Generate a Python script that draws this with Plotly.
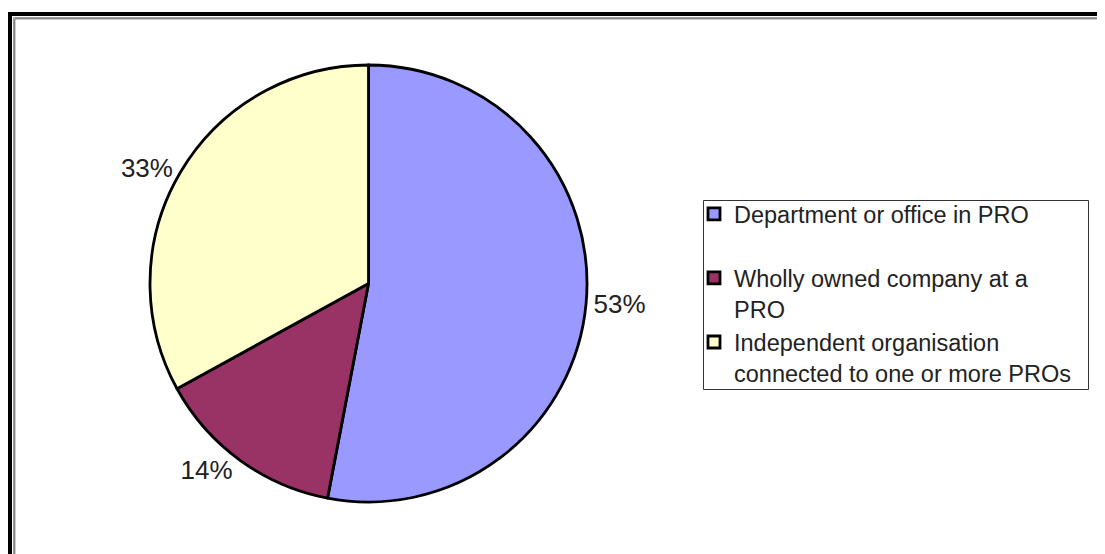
import plotly.graph_objects as go

categories = [
    "Department or office in PRO<br> ",
    "Wholly owned company at a<br>PRO",
    "Independent organisation<br>connected to one or more PROs",
]
values = [53, 14, 33]
colors = ["#9999FF", "#993366", "#FFFFCC"]

W, H = 1105, 554
OFF = 8  # page body margin of the browser


def px(x):
    return (x - OFF) / W


def py(y):
    return 1 - (y - OFF) / H


FONT = "Liberation Sans, Arial, sans-serif"

fig = go.Figure(
    go.Pie(
        labels=categories,
        values=values,
        sort=False,
        direction="clockwise",
        rotation=0,
        marker=dict(colors=colors, line=dict(color="#000000", width=2.8)),
        textinfo="percent",
        textposition="outside",
        outsidetextfont=dict(family=FONT, size=26, color="#222222"),
        domain=dict(x=[px(150), px(587)], y=[py(502), py(65)]),
        hoverinfo="label+percent",
    )
)

shapes = [
    dict(type="rect", xref="paper", yref="paper", x0=px(10), y0=py(14), x1=px(1140), y1=py(590),
         line=dict(color="#000000", width=4), fillcolor="rgba(0,0,0,0)"),
    dict(type="rect", xref="paper", yref="paper", x0=px(13.5), y0=py(17.5), x1=px(1140), y1=py(590),
         line=dict(color="#9a9a9a", width=1), fillcolor="rgba(0,0,0,0)"),
    dict(type="rect", xref="paper", yref="paper", x0=px(14.8), y0=py(18.8), x1=px(1140), y1=py(590),
         line=dict(color="#555555", width=1), fillcolor="rgba(0,0,0,0)"),
    # legend box
    dict(type="rect", xref="paper", yref="paper", x0=px(703.5), y0=py(200.5), x1=px(1088.5), y1=py(389.5),
         line=dict(color="#333333", width=1), fillcolor="rgba(0,0,0,0)", layer="above"),
]

fig.update_layout(
    width=W,
    height=H,
    margin=dict(l=0, r=0, t=0, b=0),
    paper_bgcolor="#ffffff",
    plot_bgcolor="#ffffff",
    showlegend=True,
    legend=dict(
        x=px(694), y=py(192), xanchor="left", yanchor="top",
        borderwidth=0, bgcolor="rgba(0,0,0,0)",
        font=dict(family=FONT, size=23.5, color="#222222"),
        valign="top", traceorder="normal", itemwidth=30,
    ),
    shapes=shapes,
)

fig.write_html("out.html")
